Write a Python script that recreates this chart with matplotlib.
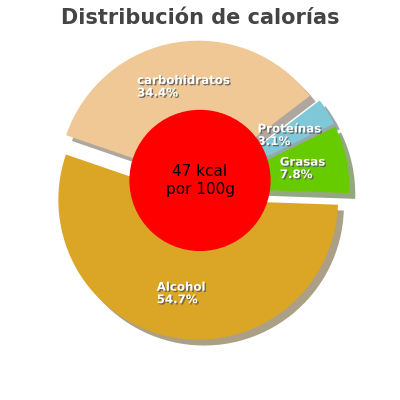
import numpy as np
import matplotlib.pyplot as plt
import matplotlib.patheffects as pe

labels = ["Grasas", "Proteínas", "carbohidratos", "Alcohol"]
values = [7.8, 3.1, 34.4, 54.7]
colors = ["#66cc00", "#7ec8d8", "#f0c896", "#dba526"]

fig = plt.figure(figsize=(4, 4), dpi=100)
ax = fig.add_axes([0, 0, 1, 1])

wedges, _ = ax.pie(values, colors=colors, startangle=-2, counterclock=True,
                   explode=[0.07] * 4, shadow={"ox": 0.03, "oy": -0.03, "shade": 0.6},
                   wedgeprops={"linewidth": 0}, radius=1.0)
ax.set_xlim(-1.43, 1.43)
ax.set_ylim(-1.5, 1.36)
ax.set_aspect("equal")
ax.axis("off")

total = sum(values)
start = -2
for lab, v in zip(labels, values):
    mid = np.deg2rad(start + v / total * 360 / 2)
    start += v / total * 360
    x, y = 0.75 * np.cos(mid), 0.75 * np.sin(mid)
    ax.text(x, y, f"{lab}\n{v}%", ha="center", va="center", multialignment="left",
            color="white", fontsize=8.5, fontweight="bold", linespacing=0.95,
            path_effects=[pe.withSimplePatchShadow(offset=(1, -1), shadow_rgbFace="#555555", alpha=0.8)])

ax.add_patch(plt.Circle((0, 0.07), 0.5, color="red", zorder=5))
ax.text(0, 0.07, "47 kcal\npor 100g", ha="center", va="center", fontsize=11, zorder=6)

fig.text(0.5, 0.955, "Distribución de calorías", ha="center", va="center",
         fontsize=15, fontweight="bold", color="#444444")

fig.savefig("out.png", dpi=100)
